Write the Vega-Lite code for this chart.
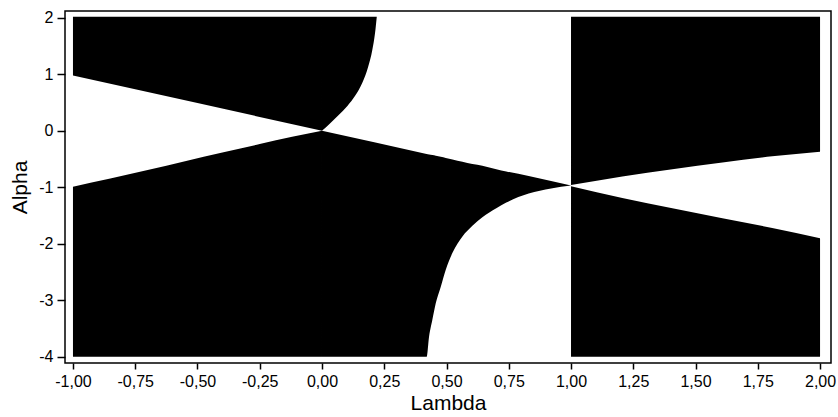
{
  "$schema": "https://vega.github.io/schema/vega-lite/v6.json",
  "width": 766,
  "height": 352,
  "autosize": {"type": "none"},
  "padding": {"left": 65, "top": 11, "right": 7, "bottom": 54},
  "background": "#ffffff",
  "config": {
    "view": {"stroke": "#000000", "strokeWidth": 1.5},
    "axis": {
      "labelFont": "Liberation Sans",
      "labelFontSize": 16,
      "labelColor": "#000000",
      "titleFont": "Liberation Sans",
      "titleFontSize": 21,
      "titleFontWeight": "normal",
      "titleColor": "#000000",
      "tickColor": "#000000",
      "tickWidth": 1.5,
      "domain": false,
      "grid": false
    }
  },
  "datasets": {
    "regions": [
      {"region": "A1", "lambda": -1.0, "lo": 0.98, "hi": 2.02},
      {"region": "A1", "lambda": -0.5, "lo": 0.49, "hi": 2.02},
      {"region": "A1", "lambda": 0.0, "lo": 0.0, "hi": 2.02},

      {"region": "A2", "lambda": 0.0, "lo": 0.0, "hi": 2.02},
      {"region": "A2", "lambda": 0.03, "lo": 0.12, "hi": 2.02},
      {"region": "A2", "lambda": 0.065, "lo": 0.27, "hi": 2.02},
      {"region": "A2", "lambda": 0.102, "lo": 0.44, "hi": 2.02},
      {"region": "A2", "lambda": 0.133, "lo": 0.62, "hi": 2.02},
      {"region": "A2", "lambda": 0.162, "lo": 0.85, "hi": 2.02},
      {"region": "A2", "lambda": 0.186, "lo": 1.14, "hi": 2.02},
      {"region": "A2", "lambda": 0.202, "lo": 1.43, "hi": 2.02},
      {"region": "A2", "lambda": 0.213, "lo": 1.73, "hi": 2.02},
      {"region": "A2", "lambda": 0.22, "lo": 2.02, "hi": 2.02},

      {"region": "B1", "lambda": -1.0, "lo": -4.0, "hi": -0.99},
      {"region": "B1", "lambda": -0.85, "lo": -4.0, "hi": -0.845},
      {"region": "B1", "lambda": -0.7, "lo": -4.0, "hi": -0.695},
      {"region": "B1", "lambda": -0.55, "lo": -4.0, "hi": -0.54},
      {"region": "B1", "lambda": -0.4, "lo": -4.0, "hi": -0.385},
      {"region": "B1", "lambda": -0.25, "lo": -4.0, "hi": -0.235},
      {"region": "B1", "lambda": -0.12, "lo": -4.0, "hi": -0.105},
      {"region": "B1", "lambda": 0.0, "lo": -4.0, "hi": 0.0},

      {"region": "B2", "lambda": 0.0, "lo": -4.0, "hi": 0.0},
      {"region": "B2", "lambda": 0.42, "lo": -4.0, "hi": -0.41},
      {"region": "B2", "lambda": 0.43, "lo": -3.64, "hi": -0.42},
      {"region": "B2", "lambda": 0.443, "lo": -3.35, "hi": -0.43},
      {"region": "B2", "lambda": 0.457, "lo": -3.05, "hi": -0.44},
      {"region": "B2", "lambda": 0.477, "lo": -2.76, "hi": -0.46},
      {"region": "B2", "lambda": 0.497, "lo": -2.46, "hi": -0.48},
      {"region": "B2", "lambda": 0.524, "lo": -2.16, "hi": -0.51},
      {"region": "B2", "lambda": 0.564, "lo": -1.87, "hi": -0.55},
      {"region": "B2", "lambda": 0.604, "lo": -1.68, "hi": -0.59},
      {"region": "B2", "lambda": 0.644, "lo": -1.53, "hi": -0.62},
      {"region": "B2", "lambda": 0.7, "lo": -1.37, "hi": -0.68},
      {"region": "B2", "lambda": 0.74, "lo": -1.27, "hi": -0.72},
      {"region": "B2", "lambda": 0.83, "lo": -1.11, "hi": -0.8},
      {"region": "B2", "lambda": 0.92, "lo": -1.02, "hi": -0.89},
      {"region": "B2", "lambda": 1.0, "lo": -0.97, "hi": -0.97},

      {"region": "C", "lambda": 1.0, "lo": -0.96, "hi": 2.02},
      {"region": "C", "lambda": 1.206, "lo": -0.81, "hi": 2.02},
      {"region": "C", "lambda": 1.407, "lo": -0.68, "hi": 2.02},
      {"region": "C", "lambda": 1.608, "lo": -0.56, "hi": 2.02},
      {"region": "C", "lambda": 1.808, "lo": -0.45, "hi": 2.02},
      {"region": "C", "lambda": 2.0, "lo": -0.37, "hi": 2.02},

      {"region": "D", "lambda": 1.0, "lo": -4.0, "hi": -0.98},
      {"region": "D", "lambda": 1.206, "lo": -4.0, "hi": -1.19},
      {"region": "D", "lambda": 1.407, "lo": -4.0, "hi": -1.37},
      {"region": "D", "lambda": 1.608, "lo": -4.0, "hi": -1.55},
      {"region": "D", "lambda": 1.808, "lo": -4.0, "hi": -1.72},
      {"region": "D", "lambda": 2.0, "lo": -4.0, "hi": -1.9}
    ]
  },
  "layer": [
    {
      "data": {"name": "regions"},
      "mark": {"type": "area", "color": "#000000", "interpolate": "monotone", "opacity": 1},
      "encoding": {
        "detail": {"field": "region", "type": "nominal"},
        "x": {
          "field": "lambda",
          "type": "quantitative",
          "scale": {"domain": [-1.032, 2.044], "nice": false, "zero": false},
          "axis": {
            "title": "Lambda",
            "values": [-1, -0.75, -0.5, -0.25, 0, 0.25, 0.5, 0.75, 1, 1.25, 1.5, 1.75, 2],
            "labelExpr": "(datum.value < 0 ? '-' : '') + replace(format(abs(datum.value), '.2f'), '.', ',')",
            "tickSize": 6,
            "labelPadding": 4,
            "titlePadding": 3
          }
        },
        "y": {
          "field": "lo",
          "type": "quantitative",
          "stack": null,
          "scale": {"domain": [-4.11, 2.12], "nice": false, "zero": false},
          "axis": {
            "title": "Alpha",
            "values": [-4, -3, -2, -1, 0, 1, 2],
            "labelExpr": "(datum.value < 0 ? '-' : '') + format(abs(datum.value), 'd')",
            "tickSize": 8,
            "labelPadding": 4,
            "titlePadding": 8
          }
        },
        "y2": {"field": "hi"}
      }
    },
    {
      "mark": {"type": "rule", "color": "#000000", "strokeWidth": 1.5},
      "encoding": {"y": {"datum": 0, "type": "quantitative"}}
    },
    {
      "mark": {"type": "rule", "color": "#000000", "strokeWidth": 1.5},
      "encoding": {"x": {"datum": 0, "type": "quantitative"}}
    }
  ]
}
